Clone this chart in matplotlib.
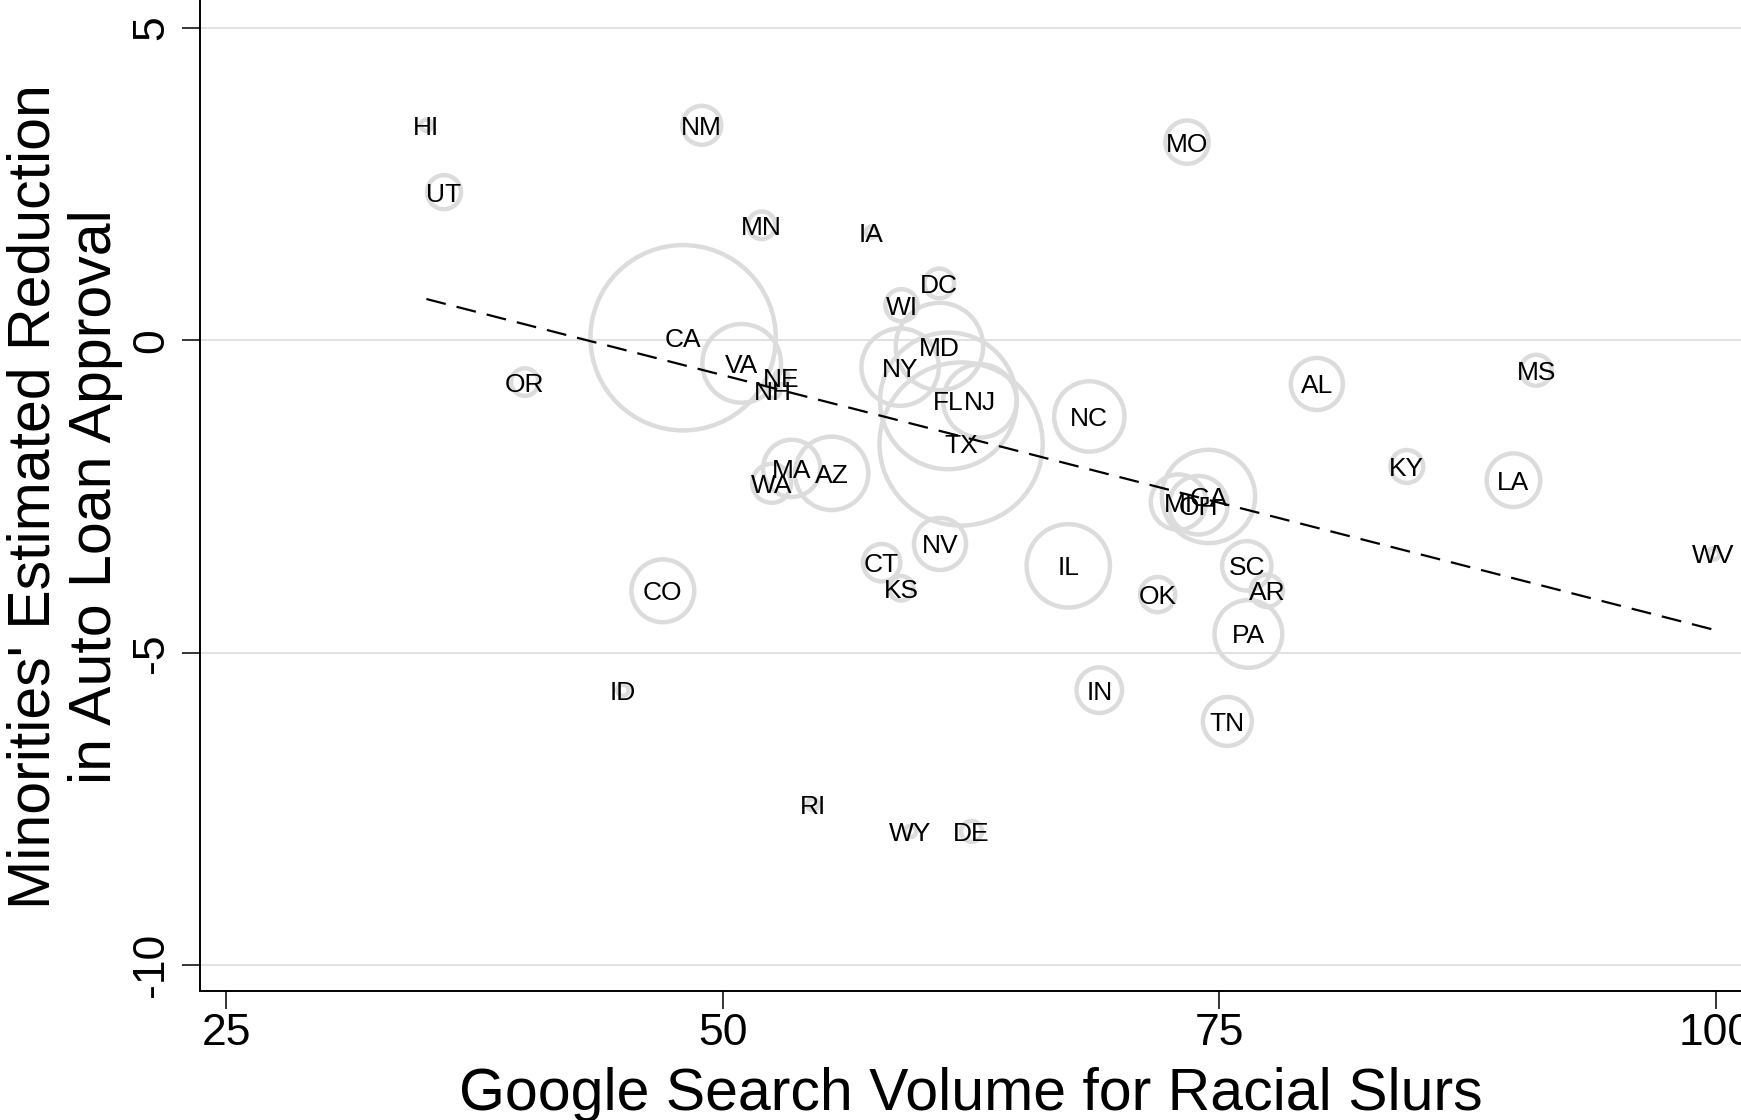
import matplotlib
matplotlib.use("Agg")
import matplotlib.pyplot as plt

# State-level points: search volume (x), estimated reduction (y), bubble weight
states = ["HI", "UT", "NM", "MO", "MN", "IA", "DC", "WI", "CA", "VA", "NE", "NH",
          "OR", "MD", "NY", "FL", "NJ", "TX", "MA", "WA", "AZ", "NC", "AL", "GA",
          "MI", "OH", "MS", "KY", "LA", "WV", "SC", "AR", "PA", "OK", "IL", "NV",
          "CT", "KS", "CO", "ID", "IN", "TN", "RI", "WY", "DE"]

search_volume = [35.07, 35.96, 48.94, 73.38, 51.96, 57.49, 60.90, 59.00, 48.00, 50.95, 52.96, 52.54,
                 40.03, 60.91, 58.93, 61.36, 62.95, 62.00, 53.47, 52.46, 55.48, 68.46, 79.92, 74.46,
                 72.95, 73.95, 90.96, 84.45, 89.82, 99.90, 76.39, 77.40, 76.47, 71.90, 67.40, 60.94,
                 58.00, 58.99, 46.98, 44.97, 68.96, 75.41, 54.53, 59.45, 62.53]

loan_reduction = [3.44, 2.37, 3.44, 3.17, 1.84, 1.73, 0.91, 0.56, 0.04, -0.37, -0.59, -0.81,
                  -0.67, -0.10, -0.43, -0.97, -0.97, -1.66, -2.05, -2.29, -2.13, -1.22, -0.70, -2.50,
                  -2.59, -2.64, -0.48, -2.02, -2.24, -3.42, -3.61, -4.01, -4.70, -4.07, -3.61, -3.26,
                  -3.56, -3.97, -4.01, -5.60, -5.60, -6.10, -7.43, -7.86, -7.86]

weight = [0.32, 2.9, 3.8, 4.7, 1.9, 0.32, 2.2, 2.6, 86.0, 15.5, 0.5, 0.5,
          1.9, 19.1, 15.0, 46.8, 13.5, 66.7, 8.2, 3.8, 13.5, 12.4, 6.8, 21.8,
          7.7, 8.6, 2.4, 2.7, 7.2, 0.32, 6.1, 2.6, 11.5, 3.1, 17.4, 6.8,
          3.5, 1.5, 9.9, 0.32, 5.2, 6.0, 0.32, 0.32, 1.1]

# fitted line
fit_x = [35.07, 100.0]
fit_y = [0.66, -4.64]

x_ticks = [25, 50, 75, 100]
y_ticks = [-10, -5, 0, 5]

plt.rcParams['font.family'] = ['Liberation Sans', 'DejaVu Sans']
plt.rcParams['axes.unicode_minus'] = False

fig = plt.figure(figsize=(17.41, 11.2), dpi=100)
ax = fig.add_axes([0.115, 0.1154, 0.885, 0.8846])

# hollow bubbles, area proportional to weight
ax.scatter(search_volume, loan_reduction, s=[w * 207 for w in weight],
           facecolors='none', edgecolors='#dcdcdc', linewidths=3.2, zorder=2)

for st, x, y in zip(states, search_volume, loan_reduction):
    ax.text(x, y, st, ha='center', va='center_baseline', fontsize=19, color='black', zorder=4)

ax.plot(fit_x, fit_y, color='black', lw=1.6, dashes=(9, 5), zorder=3)

ax.set_xlim(23.68, 101.28)
ax.set_ylim(-10.41, 5.445)
ax.set_xticks(x_ticks)
ax.set_yticks(y_ticks)

ax.yaxis.grid(True, color='#dcdcdc', lw=1.2)
ax.set_axisbelow(True)

for side in ['top', 'right']:
    ax.spines[side].set_visible(False)
for side in ['left', 'bottom']:
    ax.spines[side].set_linewidth(1.4)

ax.tick_params(axis='both', length=13, width=1.1, labelsize=32)
ax.tick_params(axis='x', pad=3)
ax.tick_params(axis='y', pad=7)
for lbl in ax.get_yticklabels():
    lbl.set_rotation(90)
    lbl.set_va('center')

fig.text(0.5574, 0.0085, "Google Search Volume for Racial Slurs", fontsize=42.5,
         ha='center', va='baseline')
fig.text(0.0287, 0.5563, "Minorities' Estimated Reduction", fontsize=42.5, rotation=90,
         rotation_mode='anchor', ha='center', va='baseline')
fig.text(0.0638, 0.5563, "in Auto Loan Approval", fontsize=42.5, rotation=90,
         rotation_mode='anchor', ha='center', va='baseline')

fig.savefig("out.png", dpi=100)
